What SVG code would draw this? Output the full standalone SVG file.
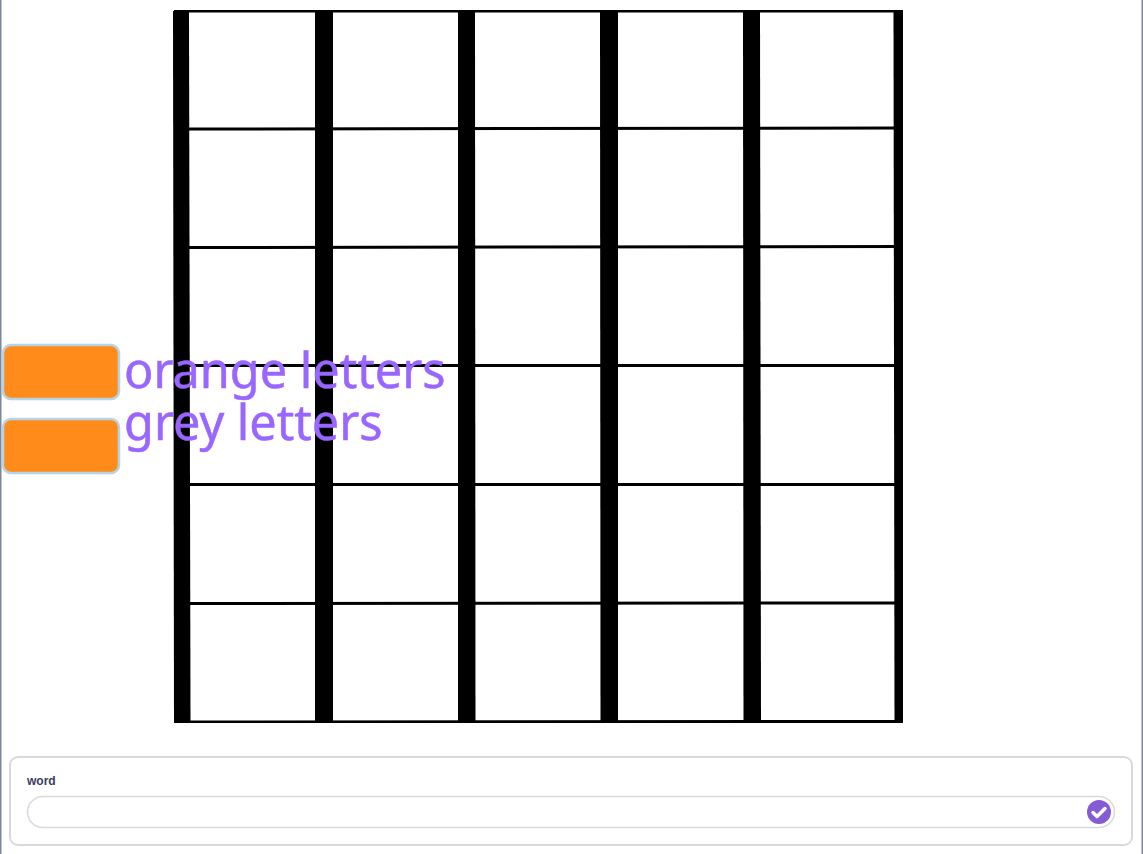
<svg xmlns="http://www.w3.org/2000/svg" width="1143" height="854" viewBox="0 0 1143 854">
<style>
.frame{fill:#7d879c}
.v,.h{fill:#000}
.btn{fill:#ff8c1a;stroke:#b9d3e6;stroke-width:2.5}
.lbl{font-family:"Noto Sans",sans-serif;font-size:48.600px;fill:#9966ff;stroke:#9966ff;stroke-width:0.500}
.panel{fill:#fff;stroke:#d9d9d9;stroke-width:2}
.input{fill:#fff;stroke:#d9d9d9;stroke-width:1.500}
</style>
<rect width="1143" height="854" fill="#fff"/>
<g id="window-frame">
<rect class="frame" x="0" y="0" width="1.500" height="854"/>
<rect class="frame" x="1141.500" y="0" width="1.500" height="854"/>
</g>
<g id="grid">
<polygon class="h" points="174,10 903,10 903,12.500 174,12.500"/>
<polygon class="h" points="174,127.500 903,126.500 903,129.500 174,130.500"/>
<polygon class="h" points="174,246 903,245 903,248 174,249"/>
<polygon class="h" points="174,364 903,364 903,367 174,367"/>
<polygon class="h" points="174,483 903,483 903,486 174,486"/>
<polygon class="h" points="174,602 903,601.500 903,604.500 174,605"/>
<polygon class="h" points="174,720.500 903,720 903,723 174,723"/>
<polygon class="v" points="173,11 189,11 190.500,723 174,723"/>
<polygon class="v" points="315,11 333,11 333,723 315,723"/>
<polygon class="v" points="458,11 475,11 475.500,723 458,723"/>
<polygon class="v" points="600,11 618,11 618,723 600.500,723"/>
<polygon class="v" points="743,11 760,11 761,723 743.500,723"/>
<polygon class="v" points="893.500,11 903,11 903,723 894.500,723"/>
</g>
<g id="swatch-orange"><rect class="btn" x="3" y="345" width="116" height="54" rx="8"/></g>
<g id="swatch-grey"><rect class="btn" x="3" y="419" width="116" height="54" rx="8"/></g>
<g id="label-orange"><text class="lbl" x="124" y="388">orange letters</text></g>
<g id="label-grey"><text class="lbl" x="124" y="440">grey letters</text></g>
<g id="answer-panel">
<rect class="panel" x="10" y="757" width="1122" height="88" rx="8"/>
<text x="27" y="785" font-family="Liberation Sans, Arial, sans-serif" font-size="12" font-weight="bold" fill="#3a3c62">word</text>
<rect class="input" x="27.500" y="796.500" width="1087" height="31" rx="15.500"/>
<circle cx="1099" cy="812" r="12" fill="#855cd6"/>
<path d="M1093 812.500l4 4 8-8" fill="none" stroke="#fff" stroke-width="3.500" stroke-linecap="round" stroke-linejoin="round"/>
</g>
</svg>
